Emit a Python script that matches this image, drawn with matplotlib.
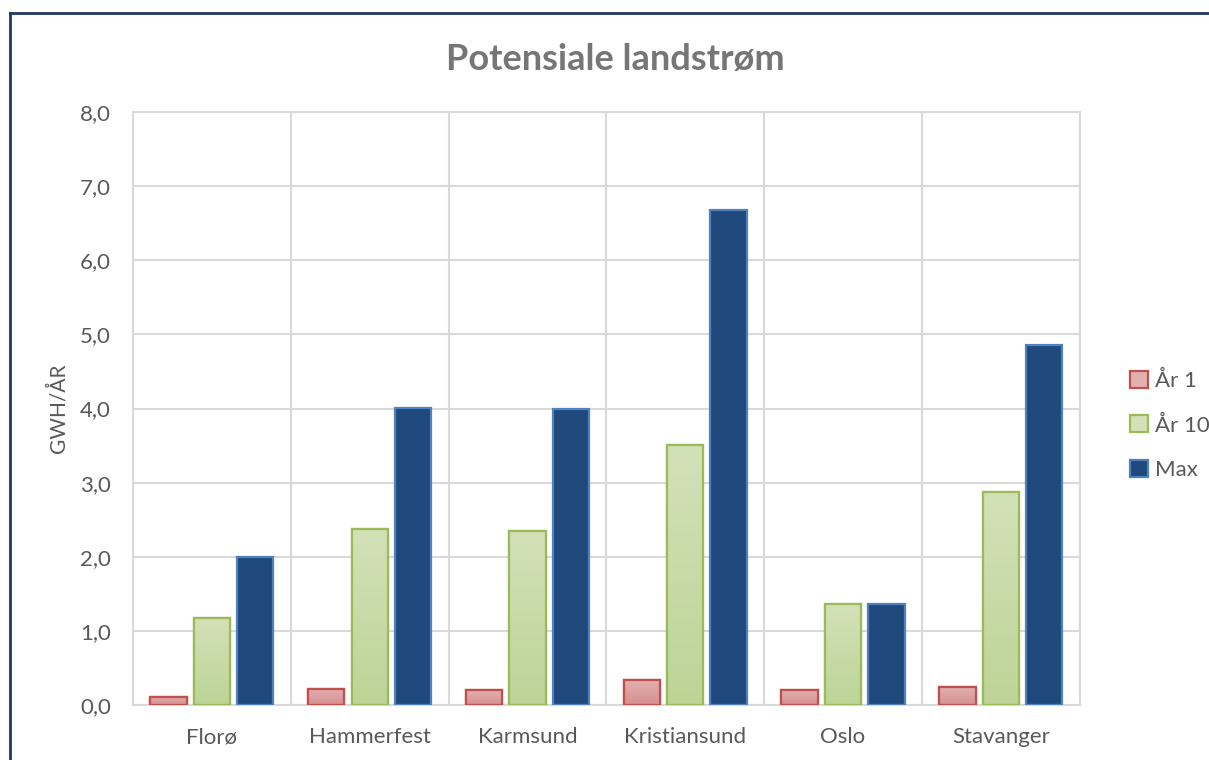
import numpy as np
import matplotlib
matplotlib.use('Agg')
import matplotlib.pyplot as plt
from matplotlib.lines import Line2D
from matplotlib.colors import LinearSegmentedColormap

plt.rcParams['font.family'] = ['Lato', 'DejaVu Sans']

# data
steder = ['Florø', 'Hammerfest', 'Karmsund', 'Kristiansund', 'Oslo', 'Stavanger']
aar1 = [0.11, 0.22, 0.20, 0.34, 0.20, 0.24]
aar10 = [1.17, 2.37, 2.35, 3.51, 1.36, 2.87]
maks = [2.00, 4.01, 3.99, 6.68, 1.36, 4.86]
serier = ['År 1', 'År 10', 'Max']
yticks = np.arange(0, 9, 1)

# style: (edge, top colour, bottom colour)
stil = [('#c0504d', '#e3b0b0', '#d58f8f'),
        ('#9bbb59', '#d3e1b8', '#bdd497'),
        ('#4f81bd', '#1f497d', '#1f497d')]

fig = plt.figure(figsize=(12.09, 7.6), dpi=100)
ax = fig.add_axes([0.110, 0.0724, 0.783, 0.7802])

x = np.arange(len(steder))
bw = 0.23
step = 0.275
handles = []
for i, (navn, verdier) in enumerate(zip(serier, [aar1, aar10, maks])):
    edge, top, bot = stil[i]
    pos = x + (i - 1) * step
    bars = ax.bar(pos, verdier, width=bw, color=bot, edgecolor=edge,
                  linewidth=1.6, zorder=3, label=navn)
    if top != bot:
        cmap = LinearSegmentedColormap.from_list('g%d' % i, [bot, top])
        grad = np.linspace(0, 1, 100).reshape(-1, 1)
        for b in bars:
            bx, by = b.get_x(), b.get_y()
            im = ax.imshow(grad, cmap=cmap, origin='lower', aspect='auto',
                           extent=[bx, bx + b.get_width(), by, by + b.get_height()],
                           zorder=3.1, interpolation='bicubic')
            im.set_clip_path(b)
        # redraw edges on top
        ax.bar(pos, verdier, width=bw, fill=False, edgecolor=edge,
               linewidth=1.6, zorder=3.2)
    handles.append(plt.Rectangle((0, 0), 1, 1, facecolor=top, edgecolor=edge, linewidth=1.6))

ax.set_xlim(-0.5, len(steder) - 0.5)
ax.set_ylim(0, 8)
ax.set_yticks(yticks)
ax.set_yticklabels(['%d,0' % v for v in yticks])
ax.set_xticks(x)
ax.set_xticklabels(steder)
ax.set_xticks(np.arange(-0.5, len(steder), 1), minor=True)

ax.grid(axis='y', color='#d9d9d9', linewidth=1.5, zorder=0)
ax.grid(axis='x', which='minor', color='#d9d9d9', linewidth=1.5, zorder=0)
for s in ax.spines.values():
    s.set_color('#d9d9d9')
    s.set_linewidth(1.5)
ax.tick_params(axis='both', which='both', length=0, colors='#595959', labelsize=16)
ax.tick_params(axis='x', pad=16)
ax.tick_params(axis='y', pad=16)

ax.set_ylabel('GWH/ÅR', color='#595959', fontsize=15, labelpad=8)
fig.text(0.509, 0.922, 'Potensiale landstrøm', ha='center', va='center',
         fontsize=26, fontweight='bold', color='#767676')

leg = fig.legend(handles, serier, loc='center left', bbox_to_anchor=(0.918, 0.44),
                 frameon=False, fontsize=16, labelcolor='#595959',
                 handlelength=0.8, handleheight=0.8, handletextpad=0.35,
                 labelspacing=1.1)

# outer frame lines (top and left)
fig.add_artist(Line2D([0.0083, 0.9995], [0.9829, 0.9829], color='#1f3864', linewidth=2))
fig.add_artist(Line2D([0.0083, 0.0083], [0.0, 0.9829], color='#1f3864', linewidth=2))

fig.savefig('out.png', dpi=100, facecolor='white')
